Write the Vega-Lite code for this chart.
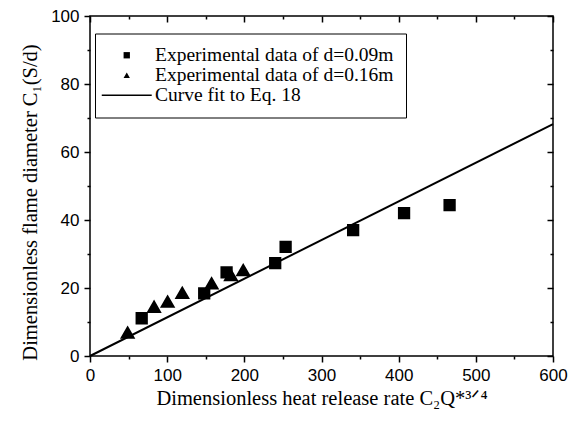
{
  "$schema": "https://vega.github.io/schema/vega-lite/v6.json",
  "width": 463,
  "height": 340,
  "autosize": "none",
  "padding": {"left": 90, "top": 16, "right": 23, "bottom": 69},
  "background": "white",
  "config": {
    "view": {"stroke": "black", "strokeWidth": 1.5},
    "axis": {
      "domain": false,
      "grid": false,
      "labelFont": "Liberation Sans",
      "labelFontSize": 17,
      "labelColor": "black",
      "tickColor": "black",
      "tickWidth": 1.5,
      "titleFont": "Liberation Serif",
      "titleFontSize": 20.5,
      "titleFontWeight": "normal",
      "titleColor": "black",
      "labelFlush": false,
      "labelOverlap": false
    }
  },
  "datasets": {
    "fit": [
      {"x": 0, "y": 0},
      {"x": 600, "y": 68.2}
    ],
    "points": [
      {"x": 67, "y": 11.1, "series": "Experimental data of d=0.09m"},
      {"x": 148, "y": 18.4, "series": "Experimental data of d=0.09m"},
      {"x": 177, "y": 24.6, "series": "Experimental data of d=0.09m"},
      {"x": 240, "y": 27.3, "series": "Experimental data of d=0.09m"},
      {"x": 253.5, "y": 32.1, "series": "Experimental data of d=0.09m"},
      {"x": 341, "y": 37.0, "series": "Experimental data of d=0.09m"},
      {"x": 407, "y": 42.0, "series": "Experimental data of d=0.09m"},
      {"x": 466, "y": 44.4, "series": "Experimental data of d=0.09m"},
      {"x": 48.8, "y": 6.9, "series": "Experimental data of d=0.16m"},
      {"x": 83, "y": 14.5, "series": "Experimental data of d=0.16m"},
      {"x": 100.6, "y": 16.0, "series": "Experimental data of d=0.16m"},
      {"x": 119.6, "y": 18.6, "series": "Experimental data of d=0.16m"},
      {"x": 157.6, "y": 21.4, "series": "Experimental data of d=0.16m"},
      {"x": 182.6, "y": 23.8, "series": "Experimental data of d=0.16m"},
      {"x": 198.6, "y": 25.3, "series": "Experimental data of d=0.16m"}
    ]
  },
  "layer": [
    {
      "data": {"name": "fit"},
      "mark": {"type": "line", "color": "black", "strokeWidth": 2},
      "encoding": {
        "x": {
          "field": "x",
          "type": "quantitative",
          "scale": {"domain": [0, 600], "nice": false, "zero": false},
          "axis": {
            "orient": "bottom",
            "values": [0, 50, 100, 150, 200, 250, 300, 350, 400, 450, 500, 550, 600],
            "labelExpr": "datum.value % 100 === 0 ? datum.label : ''",
            "tickSize": {"condition": {"test": "datum.value % 100 === 0", "value": 6}, "value": 3},
            "labelPadding": 5,
            "title": "Dimensionless heat release rate C₂Q*³ᐟ⁴",
            "titlePadding": 5
          }
        },
        "y": {
          "field": "y",
          "type": "quantitative",
          "scale": {"domain": [0, 100], "nice": false, "zero": false},
          "axis": {
            "orient": "left",
            "values": [0, 10, 20, 30, 40, 50, 60, 70, 80, 90, 100],
            "labelExpr": "datum.value % 20 === 0 ? datum.label : ''",
            "tickSize": {"condition": {"test": "datum.value % 20 === 0", "value": 6}, "value": 3},
            "labelPadding": 5,
            "title": "Dimensionless flame diameter C₁(S/d)",
            "titlePadding": 10,
            "titleY": 186
          }
        }
      }
    },
    {
      "data": {"name": "points"},
      "mark": {"type": "point", "fill": "black", "stroke": "black", "strokeWidth": 1.8, "opacity": 1, "fillOpacity": 1},
      "encoding": {
        "x": {
          "field": "x",
          "type": "quantitative",
          "scale": {"domain": [0, 600], "nice": false, "zero": false},
          "axis": {
            "orient": "top",
            "values": [0, 50, 100, 150, 200, 250, 300, 350, 400, 450, 500, 550, 600],
            "labels": false,
            "title": null,
            "tickSize": {"condition": {"test": "datum.value % 100 === 0", "value": -6}, "value": -3}
          }
        },
        "y": {
          "field": "y",
          "type": "quantitative",
          "scale": {"domain": [0, 100], "nice": false, "zero": false},
          "axis": {
            "orient": "right",
            "values": [0, 10, 20, 30, 40, 50, 60, 70, 80, 90, 100],
            "labels": false,
            "title": null,
            "tickSize": {"condition": {"test": "datum.value % 20 === 0", "value": -6}, "value": -3}
          }
        },
        "shape": {
          "field": "series",
          "type": "nominal",
          "scale": {
            "domain": ["Experimental data of d=0.09m", "Experimental data of d=0.16m", "Curve fit to Eq. 18"],
            "range": ["square", "triangle-up", "M-7.9,-0.25H7.9V0.25H-7.9Z"]
          },
          "legend": {
            "title": null,
            "orient": "none",
            "legendX": 5,
            "legendY": 17.5,
            "padding": 12,
            "rowPadding": -1,
            "strokeColor": "black",
            "fillColor": "white",
            "symbolSize": 40,
            "symbolOffset": 10,
            "symbolStrokeWidth": 1.8,
            "symbolStrokeColor": "black",
            "symbolFillColor": "black",
            "labelFont": "Liberation Serif",
            "labelFontSize": 19.5,
            "labelColor": "black",
            "labelLimit": 400,
            "labelOffset": 18.5
          }
        },
        "size": {
          "condition": {"test": "datum.series === 'Experimental data of d=0.16m'", "value": 150},
          "value": 110
        }
      }
    }
  ],
  "resolve": {"axis": {"x": "independent", "y": "independent"}}
}
